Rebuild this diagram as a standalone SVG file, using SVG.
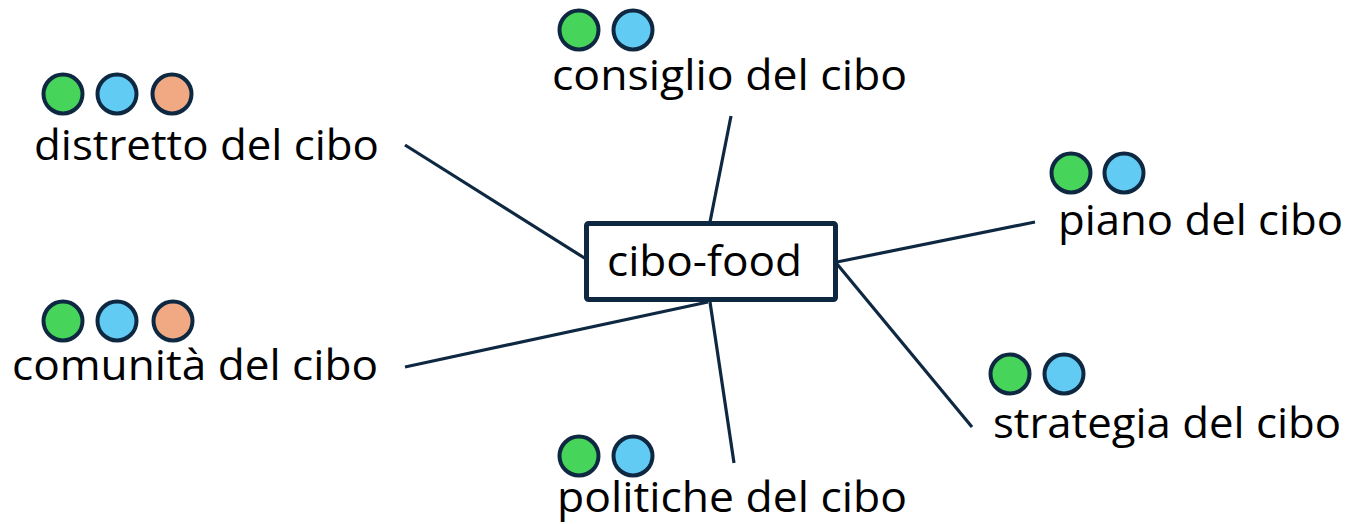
<svg xmlns="http://www.w3.org/2000/svg" width="1350" height="524" viewBox="0 0 1350 524">
<style>
.lbl{font-family:"Open Sans","Liberation Sans",sans-serif;font-size:42px;fill:#000}
.g{fill:#47D45A;stroke:#0E2841;stroke-width:4}
.b{fill:#61CBF3;stroke:#0E2841;stroke-width:4}
.o{fill:#F1A983;stroke:#0E2841;stroke-width:4}
.c{stroke:#0E2841;stroke-width:3.2;fill:none}
</style>
<rect width="1350" height="524" fill="#fff"/>
<g id="connectors">
<line class="c" x1="405" y1="145" x2="586" y2="259"/>
<line class="c" x1="731" y1="116" x2="710" y2="222"/>
<line class="c" x1="1035" y1="222" x2="837" y2="262"/>
<line class="c" x1="837" y1="264" x2="972" y2="427"/>
<line class="c" x1="710" y1="302" x2="734" y2="463"/>
<line class="c" x1="405" y1="367" x2="708" y2="302"/>
</g>
<g id="center">
<rect x="586.5" y="223.5" width="249" height="76" rx="2" fill="#fff" stroke="#0E2841" stroke-width="5"/>
<text class="lbl" x="607" y="276" textLength="195" lengthAdjust="spacingAndGlyphs">cibo-food</text>
</g>
<g id="distretto">
<circle class="g" cx="63" cy="94" r="19.5"/>
<circle class="b" cx="117" cy="94" r="19.5"/>
<circle class="o" cx="172" cy="94" r="19.5"/>
<text class="lbl" x="34" y="160" textLength="345" lengthAdjust="spacingAndGlyphs">distretto del cibo</text>
</g>
<g id="consiglio">
<circle class="g" cx="579" cy="30" r="19.5"/>
<circle class="b" cx="633" cy="30" r="19.5"/>
<text class="lbl" x="552" y="90" textLength="355" lengthAdjust="spacingAndGlyphs">consiglio del cibo</text>
</g>
<g id="piano">
<circle class="g" cx="1071" cy="173" r="19.5"/>
<circle class="b" cx="1124" cy="173" r="19.5"/>
<text class="lbl" x="1058" y="235" textLength="285" lengthAdjust="spacingAndGlyphs">piano del cibo</text>
</g>
<g id="strategia">
<circle class="g" cx="1010" cy="374" r="19.5"/>
<circle class="b" cx="1064" cy="374" r="19.5"/>
<text class="lbl" x="993" y="438" textLength="348" lengthAdjust="spacingAndGlyphs">strategia del cibo</text>
</g>
<g id="comunita">
<circle class="g" cx="63" cy="321" r="19.5"/>
<circle class="b" cx="117" cy="321" r="19.5"/>
<circle class="o" cx="173" cy="321" r="19.5"/>
<text class="lbl" x="12" y="380" textLength="366" lengthAdjust="spacingAndGlyphs">comunità del cibo</text>
</g>
<g id="politiche">
<circle class="g" cx="579" cy="456" r="19.5"/>
<circle class="b" cx="633" cy="456" r="19.5"/>
<text class="lbl" x="557" y="512" textLength="350" lengthAdjust="spacingAndGlyphs">politiche del cibo</text>
</g>
</svg>
